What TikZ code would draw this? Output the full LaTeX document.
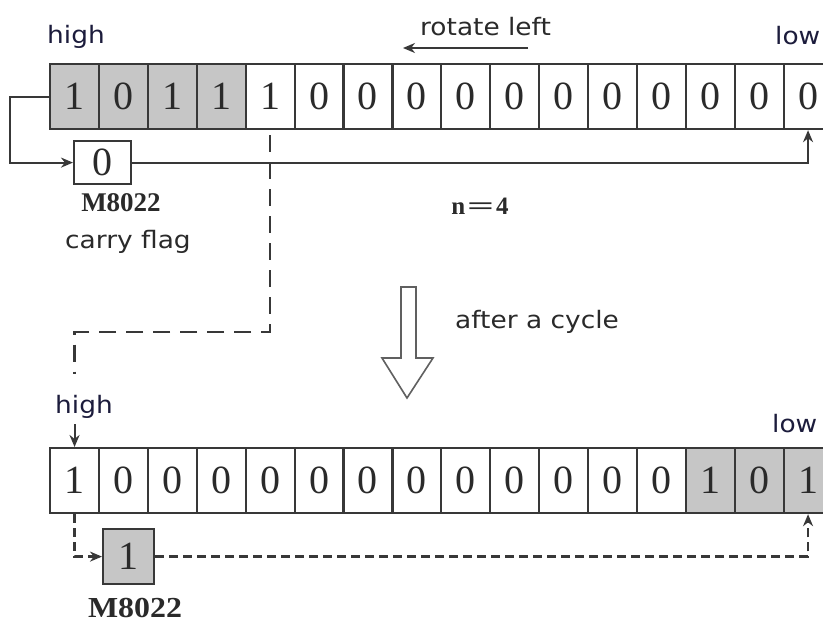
\documentclass[tikz,border=0pt]{standalone}
\usepackage{fontspec}
\usepackage{graphicx}
\setmainfont{Liberation Serif}
\newfontfamily\sansf[FakeStretch=1.1]{DejaVu Sans}
\newfontfamily\digf{Liberation Serif}
\newfontfamily\bstretch[FakeStretch=1.1]{Liberation Serif}
\usetikzlibrary{arrows.meta}
\definecolor{linec}{HTML}{383838}
\definecolor{cellgray}{HTML}{C6C6C6}
\definecolor{navy}{HTML}{1C1C3C}
\definecolor{txt}{HTML}{2A2A2A}
\tikzset{
  cellbox/.style={draw=linec, line width=2.2pt, minimum width=48.9pt, minimum height=65pt,
    inner sep=0pt, anchor=north west, text=txt, font=\digf\fontsize{40}{40}\selectfont},
  gcell/.style={cellbox, fill=cellgray},
  wcell/.style={cellbox, fill=white},
  carrybox/.style={draw=linec, line width=2.2pt, inner sep=0pt, anchor=north west, text=txt,
    font=\digf\fontsize{40}{40}\selectfont},
  sanslabel/.style={anchor=base west, inner sep=0pt, font=\sansf\fontsize{24}{24}\selectfont, text=txt},
  hilo/.style={sanslabel, text=navy},
  conn/.style={draw=linec, line width=2pt},
  arr/.tip={Stealth[length=12pt,width=10pt]},
  dashlong/.style={draw=linec, line width=2.5pt, dash pattern=on 17pt off 10pt},
  dashshort/.style={draw=linec, line width=2.5pt, dash pattern=on 9pt off 5pt},
  mlabel/.style={inner sep=0pt, text=txt}
}
\begin{document}
\begin{tikzpicture}[x=1pt,y=-1pt]
\useasboundingbox (0,0) rectangle (823,623);
\fill[white] (0,0) rectangle (823,623);

% top register
\foreach \v/\s [count=\i] in {1/gcell,0/gcell,1/gcell,1/gcell,1/wcell,0/wcell,0/wcell,0/wcell,0/wcell,0/wcell,0/wcell,0/wcell,0/wcell,0/wcell,0/wcell,0/wcell}
  \node[\s] (t\i) at ({49+(\i-1)*48.9},63) {\v};

% bottom register
\foreach \v/\s [count=\i] in {1/wcell,0/wcell,0/wcell,0/wcell,0/wcell,0/wcell,0/wcell,0/wcell,0/wcell,0/wcell,0/wcell,0/wcell,0/wcell,1/gcell,0/gcell,1/gcell}
  \node[\s] (b\i) at ({49+(\i-1)*48.9},447) {\v};

% carry flag boxes
\node[carrybox, fill=white, minimum width=57pt, minimum height=43pt] (c1) at (73,140) {0};
\node[carrybox, fill=cellgray, minimum width=51pt, minimum height=55pt] (c2) at (102,528) {1};

% labels
\node[hilo] (hightop) at (47,44) {high};
\node[hilo] (lowtop) at (775,45) {low};
\node[sanslabel] (rot) at (420,36) {rotate left};
\node[sanslabel] (carry) at (65,248) {carry flag};
\node[sanslabel] (after) at (455,328) {after a cycle};
\node[hilo] (highbot) at (55,413) {high};
\node[hilo] (lowbot) at (772,432) {low};
\node[mlabel, font=\bfseries\fontsize{27}{27}\selectfont] (m1) at (121,203) {M8022};
\node[mlabel, font=\bstretch\bfseries\fontsize{29}{29}\selectfont] (m2) at (135,608) {M8022};
\node[mlabel, font=\bfseries\fontsize{25}{25}\selectfont] (n4) at (480,206) {n\kern2pt\scalebox{1.9}[1]{=}\kern2pt 4};

% rotate left arrow
\coordinate (ra) at (528,48);
\coordinate (rb) at (403,48);
\draw[conn,-{arr}] (ra) -- (rb);

% top loop
\draw[conn,-{arr}] (t1.west) -- ++(-39,0) |- (c1.west);
\draw[conn,-{arr}] (c1.east) -| (t16.south);

% dashed path from top to bottom
\coordinate (d0) at ([yshift=-5pt]t5.south);
\coordinate (d1) at ([yshift=-202pt]t5.south);
\coordinate (d2) at (b1.north |- 0,374);
\draw[dashlong] (d0) -- (d1) -| (d2);

% high arrow bottom
\coordinate (h0) at (b1.north |- 0,424);
\draw[conn,-{arr}] (h0) -- (b1.north);

% hollow down arrow
\draw[line width=1.6pt, draw=linec!80, fill=white, line join=miter]
  (401,287) -- (416,287) -- (416,358) -- (433,358) -- (407,398) -- (382,358) -- (401,358) -- cycle;

% bottom loop
\draw[dashshort,-{arr}] (b1.south) |- (c2.west);
\draw[dashshort,-{arr}] (c2.east) -| (b16.south);
\end{tikzpicture}
\end{document}
